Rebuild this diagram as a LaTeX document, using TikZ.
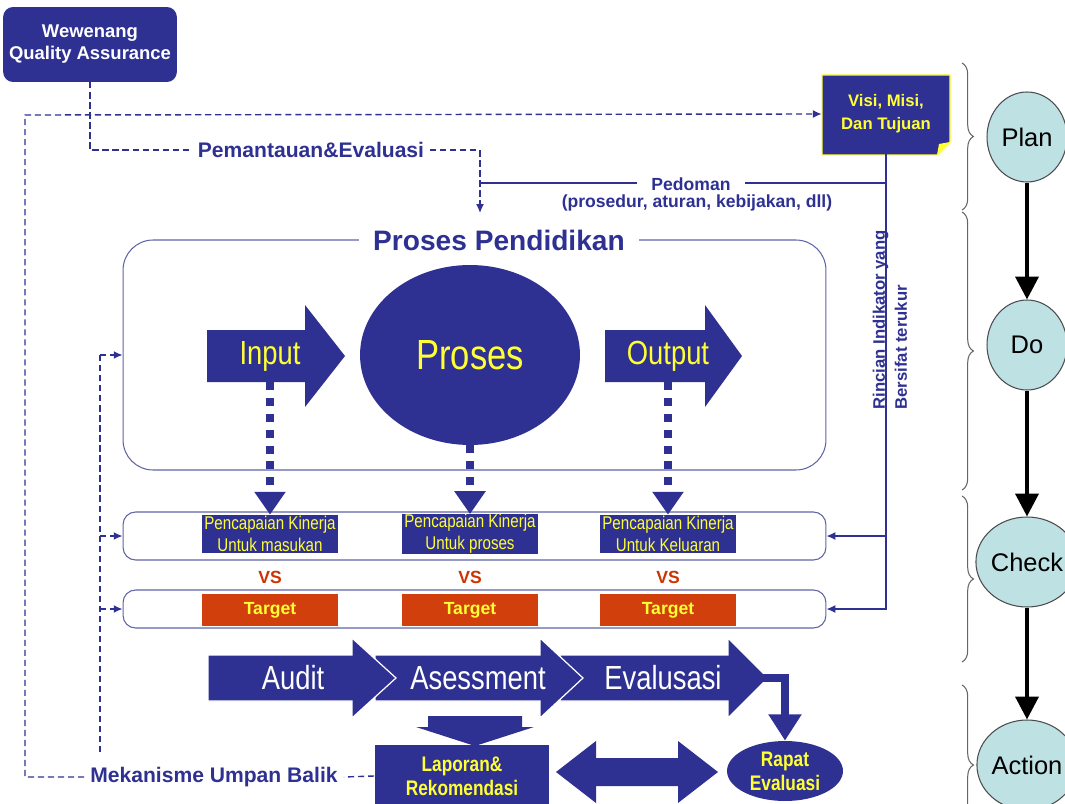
\documentclass[tikz,border=0pt]{standalone}
\usepackage{fontspec}
\setmainfont{Liberation Sans}
\newfontfamily\narrowfont[FakeStretch=0.82]{Liberation Sans}
\usetikzlibrary{arrows.meta,shapes.geometric,decorations.pathreplacing}

\definecolor{qablue}{RGB}{46,49,146}
\definecolor{qayellow}{RGB}{255,255,51}
\definecolor{tgtred}{RGB}{209,64,12}
\definecolor{vsred}{RGB}{204,51,0}
\definecolor{rimline}{RGB}{95,100,165}
\definecolor{pdcafill}{RGB}{190,225,228}

\tikzset{
  fb/.style={qablue, line width=0.8pt, dash pattern=on 3.5pt off 2.2pt},
  rule/.style={qablue, line width=0.8pt},
  fbtip/.style={-{Latex[length=5pt,width=4.5pt]}},
  rim/.style={draw=rimline, line width=0.6pt, rounded corners=0.25cm},
  dotc/.style={qablue, line width=4.5pt, dash pattern=on 4.5pt off 4.5pt, -{Triangle[length=13pt,width=17pt]}},
  kinbox/.style={fill=qablue, minimum width=2.74cm, minimum height=0.76cm, inner sep=0pt, text=qayellow, align=center, font=\narrowfont\fontsize{10.5}{12.5}\selectfont},
  tgtbox/.style={fill=tgtred, minimum width=2.74cm, minimum height=0.64cm, inner sep=0pt, text=qayellow, font=\bfseries\fontsize{10}{12}\selectfont},
  vslabel/.style={text=vsred, font=\bfseries\fontsize{10}{12}\selectfont},
  blk/.style={fill=qablue, draw=white, line width=0.7pt},
  blklabel/.style={text=white, font=\narrowfont\fontsize{19}{22}\selectfont},
  bluetext/.style={text=qablue, font=\bfseries\fontsize{12}{14}\selectfont},
  pdca/.style={ellipse, fill=pdcafill, draw=black!70, line width=0.6pt, minimum width=1.6cm, minimum height=1.8cm, inner sep=0pt, font=\fontsize{14.5}{17}\selectfont},
  pdcaarrow/.style={black, line width=2.3pt, -{Triangle[length=13pt,width=13pt]}},
  brc/.style={draw=black!60, line width=0.6pt, decorate, decoration={brace, amplitude=6.5pt}}
}

\begin{document}
\begin{tikzpicture}[x=0.02cm,y=-0.02cm]
\useasboundingbox (0,0) rectangle (1065,804);

\node[fill=qablue, rounded corners=0.2cm, minimum width=3.4cm, minimum height=1.5cm, text=white, align=center, font=\bfseries\fontsize{10.5}{12.5}\selectfont] (qa) at (90,44.5) {Wewenang\\Quality Assurance};

\filldraw[fill=qablue, draw=qayellow, line width=0.8pt] (822,75) -- (950,75) -- (950,142) -- (937,155) -- (822,155) -- cycle;
\fill[qayellow] (937,155) -- (950,142) -- (939,144) -- cycle;
\node[minimum width=2.56cm, minimum height=1.6cm, text=qayellow, align=center, font=\bfseries\fontsize{9.5}{13}\selectfont] (visi) at (886,114) {Visi, Misi,\\Dan Tujuan};

\node[rim, rounded corners=0.6cm, minimum width=14.06cm, minimum height=4.6cm] (pp) at (474.5,355) {};
\node[rim, minimum width=14.06cm, minimum height=0.96cm] (rowkin) at (474.5,536) {};
\node[rim, minimum width=14.06cm, minimum height=0.76cm] (rowtgt) at (474.5,609) {};
\node[fill=white, text=qablue, inner xsep=8pt, font=\bfseries\fontsize{16}{18}\selectfont] (pptitle) at (499,240) {Proses Pendidikan};

\node[bluetext] (pem) at (311,150) {Pemantauan\&Evaluasi};
\coordinate (pedin) at (480,213);
\coordinate (pedl) at (480,183);
\draw[fb] (qa.south) |- (pem.west);
\draw[fb,fbtip] (pem.east) -| (pedin);
\draw[rule] (pedl) -- (pedl -| visi.south);
\node[fill=white, text=qablue, inner xsep=8pt, inner ysep=1pt, font=\bfseries\fontsize{10}{12}\selectfont] (ped) at (691,184) {Pedoman};
\node[text=qablue, font=\bfseries\fontsize{10}{12}\selectfont] (pedsub) at (697,203) {(prosedur, aturan, kebijakan, dll)};

\draw[rule,fbtip] (visi.south) |- (rowtgt.east);
\draw[rule,fbtip] (visi.south |- rowkin.east) -- (rowkin.east);
\node[rotate=90, text=qablue, align=left, font=\bfseries\fontsize{9.5}{12.5}\selectfont] (rinc) at (890,320) {Rincian Indikator yang\\Bersifat terukur};

\fill[qablue] (207,330) -- (305,330) -- (305,305) -- (345,356) -- (305,407) -- (305,382) -- (207,382) -- cycle;
\fill[qablue] (605,330) -- (705,330) -- (705,305) -- (742,356) -- (705,407) -- (705,382) -- (605,382) -- cycle;
\node[text=qayellow, minimum height=1.04cm, inner sep=0pt, font=\narrowfont\fontsize{19}{22}\selectfont] (inp) at (270,356) {Input};
\node[text=qayellow, minimum height=1.04cm, inner sep=0pt, font=\narrowfont\fontsize{19}{22}\selectfont] (outp) at (668,356) {Output};
\node[ellipse, fill=qablue, minimum width=4.4cm, minimum height=3.6cm, inner sep=0pt, text=qayellow, font=\narrowfont\fontsize{24}{28}\selectfont] (proc) at (470,355) {Proses};

\node[kinbox] (kin1) at (270,534) {Pencapaian Kinerja\\Untuk masukan};
\node[kinbox] (kin2) at (470,534) {Pencapaian Kinerja\\Untuk proses};
\node[kinbox] (kin3) at (668,534) {Pencapaian Kinerja\\Untuk Keluaran};
\draw[dotc] (inp.south) -- (kin1.north);
\draw[dotc] (proc.south) -- (kin2.north);
\draw[dotc] (outp.south) -- (kin3.north);

\node[vslabel] (vs1) at (270,577) {VS};
\node[vslabel] (vs2) at (470,577) {VS};
\node[vslabel] (vs3) at (668,577) {VS};
\node[tgtbox] (tgt1) at (270,610) {Target};
\node[tgtbox] (tgt2) at (470,610) {Target};
\node[tgtbox] (tgt3) at (668,610) {Target};

\coordinate (fbtop) at (100,355);
\coordinate (fbbot) at (100,752);
\draw[fb] (fbbot) -- (fbtop);
\draw[fb,fbtip] (fbtop) -- (pp.west);
\draw[fb,fbtip] (fbtop |- rowkin.west) -- (rowkin.west);
\draw[fb,fbtip] (fbtop |- rowtgt.west) -- (rowtgt.west);

\draw[blk] (560,655) -- (728,655) -- (728,638) -- (768,678) -- (728,718) -- (728,701) -- (560,701) -- cycle;
\draw[blk] (375,655) -- (540,655) -- (540,638) -- (583,678) -- (540,718) -- (540,701) -- (375,701) -- cycle;
\draw[blk] (208,655) -- (352,655) -- (352,638) -- (396,678) -- (352,718) -- (352,701) -- (208,701) -- cycle;
\node[blklabel] (aud) at (293,678) {Audit};
\node[blklabel] (ases) at (478,678) {Asessment};
\node[blklabel] (eval) at (663,678) {Evalusasi};

\node[fill=qablue, minimum width=3.5cm, minimum height=1.24cm, text=qayellow, align=center, font=\narrowfont\bfseries\fontsize{12}{13.6}\selectfont] (lapor) at (462,776) {Laporan\&\\Rekomendasi};
\node[ellipse, fill=qablue, minimum width=2.32cm, minimum height=1.2cm, inner sep=0pt, text=qayellow, align=center, font=\narrowfont\bfseries\fontsize{12}{13.6}\selectfont] (rapat) at (785,771) {Rapat\\Evaluasi};
\coordinate (evtip) at (762,678);
\draw[qablue, line width=5pt, -{Triangle[length=15pt,width=18pt]}] (evtip) -| (rapat.north);
\fill[qablue] (428,716) -- (522,716) -- (522,727) -- (534,727) -- (475,746) -- (416,727) -- (428,727) -- cycle;
\fill[qablue] (556,772) -- (596,741) -- (596,758) -- (678,758) -- (678,741) -- (718,772) -- (678,803) -- (678,786) -- (596,786) -- (596,803) -- cycle;

\node[bluetext] (mek) at (214,777) {Mekanisme Umpan Balik};
\coordinate (fbcorner) at (25,115);
\draw[fb,fbtip] (mek.west) -| (fbcorner) -- (visi.west);
\draw[fb] (lapor.west) -- (mek.east);

\node[pdca] (plan) at (1027,137) {Plan};
\node[pdca] (do) at (1027,345) {Do};
\node[pdca] (check) at (1027,562) {Check};
\node[pdca] (act) at (1027,765) {Action};
\draw[pdcaarrow] (plan) -- (do);
\draw[pdcaarrow] (do) -- (check);
\draw[pdcaarrow] (check) -- (act);

\draw[brc] (962,63) -- (962,210);
\draw[brc] (962,212) -- (962,490);
\draw[brc] (962,496) -- (962,662);
\draw[brc] (962,685) -- (962,845);
\end{tikzpicture}
\end{document}
